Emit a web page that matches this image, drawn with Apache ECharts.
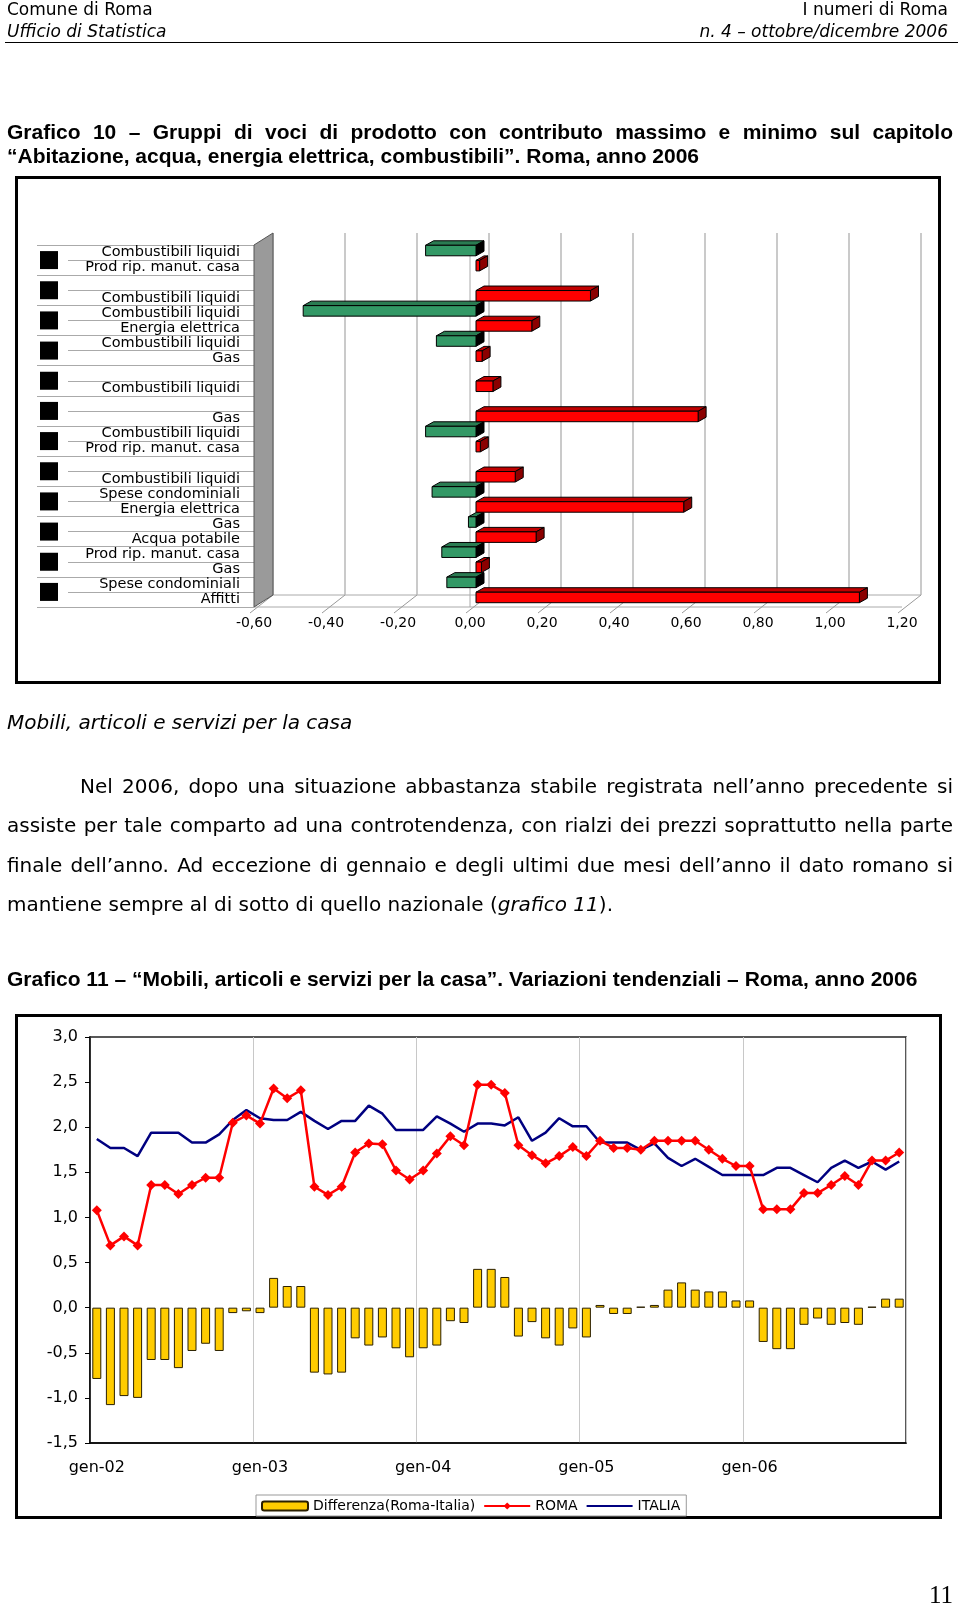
<!DOCTYPE html>
<html>
<head>
<meta charset="utf-8">
<script src="https://cdn.jsdelivr.net/npm/echarts@6.0.0/dist/echarts.min.js"></script>
<style>
  html, body { margin: 0; padding: 0; background: #fff; }
  .page { position: relative; width: 960px; height: 1607px; overflow: hidden; }
  .t { position: absolute; white-space: nowrap; color: #000; font-family: 'DejaVu Sans', sans-serif; z-index: 2; }
  .hd { font-size: 17px; line-height: 20px; }
  .r { text-align: right; }
  .bold { font-family: 'Liberation Sans', Arial, sans-serif; font-weight: bold; font-size: 21px; }
  .just { text-align: justify; text-align-last: justify; }
  .body { font-size: 20px; line-height: 39.3px; }
  .frame { position: absolute; box-sizing: border-box; border: 3px solid #000; z-index: 0; }
  #chart { position: absolute; left: 0; top: 0; width: 960px; height: 1607px; z-index: 1; }
</style>
</head>
<body>
<div class="page">
  <div class="t hd" style="left:7px;top:-1px">Comune di Roma</div>
  <div class="t hd" style="left:7px;top:21px;font-style:italic">Ufficio di Statistica</div>
  <div class="t hd r" style="right:12px;top:-1px">I numeri di Roma</div>
  <div class="t hd r" style="right:12px;top:21px;font-style:italic">n. 4 – ottobre/dicembre 2006</div>
  <div style="position:absolute;left:5px;top:42px;width:953px;border-top:1.5px solid #000"></div>

  <div class="t bold just" style="left:7px;top:120px;width:946px;line-height:23.8px">Grafico 10 – Gruppi di voci di prodotto con contributo massimo e minimo sul capitolo</div>
  <div class="t bold" style="left:7px;top:144px;line-height:23.8px">“Abitazione, acqua, energia elettrica, combustibili”. Roma, anno 2006</div>

  <div class="frame" style="left:15px;top:176px;width:926px;height:508px"></div>

  <div class="t" style="left:7px;top:710px;font-size:20px;line-height:24px;font-style:italic">Mobili, articoli e servizi per la casa</div>

  <div class="t body just" style="left:7px;top:767px;width:873px;padding-left:73px">Nel 2006, dopo una situazione abbastanza stabile registrata nell’anno precedente si</div>
  <div class="t body just" style="left:7px;top:806px;width:946px">assiste per tale comparto ad una controtendenza, con rialzi dei prezzi soprattutto nella parte</div>
  <div class="t body just" style="left:7px;top:846px;width:946px">finale dell’anno. Ad eccezione di gennaio e degli ultimi due mesi dell’anno il dato romano si</div>
  <div class="t body" style="left:7px;top:885px">mantiene sempre al di sotto di quello nazionale (<i>grafico 11</i>).</div>

  <div class="t bold" style="left:7px;top:967px;line-height:24px">Grafico 11 – “Mobili, articoli e servizi per la casa”. Variazioni tendenziali – Roma, anno 2006</div>

  <div class="frame" style="left:15px;top:1014px;width:927px;height:505px"></div>

  <div class="t r" style="right:7px;top:1580px;font-family:'Liberation Serif',serif;font-size:25px;line-height:30px">11</div>

  <div id="chart"></div>
</div>
<script>
// ---- Grafico 10: contributo minimo (verde) e massimo (rosso) per mese
const months10 = ['gen', 'feb', 'mar', 'apr', 'mag', 'giu', 'lug', 'ago', 'set', 'ott', 'nov', 'dic'];
const minLabels = ['Combustibili liquidi', '', 'Combustibili liquidi', 'Combustibili liquidi', '', '',
  'Combustibili liquidi', '', 'Spese condominiali', 'Gas', 'Prod rip. manut. casa', 'Spese condominiali'];
const minValues = [-0.14, null, -0.48, -0.11, null, null, -0.14, null, -0.122, -0.021, -0.095, -0.081];
const maxLabels = ['Prod rip. manut. casa', 'Combustibili liquidi', 'Energia elettrica', 'Gas', 'Combustibili liquidi', 'Gas',
  'Prod rip. manut. casa', 'Combustibili liquidi', 'Energia elettrica', 'Acqua potabile', 'Gas', 'Affitti'];
const maxValues = [0.01, 0.318, 0.155, 0.017, 0.047, 0.617, 0.012, 0.109, 0.577, 0.167, 0.015, 1.065];
const xTicks10 = [-0.6, -0.4, -0.2, 0, 0.2, 0.4, 0.6, 0.8, 1.0, 1.2];

// ---- Grafico 11: variazioni tendenziali
const monthNames = ['gen', 'feb', 'mar', 'apr', 'mag', 'giu', 'lug', 'ago', 'set', 'ott', 'nov', 'dic'];
const years = ['02', '03', '04', '05', '06'];
const roma = [1.08, 0.69, 0.79, 0.69, 1.36, 1.36, 1.26, 1.36, 1.44, 1.44, 2.05, 2.13,
  2.04, 2.43, 2.32, 2.41, 1.34, 1.25, 1.34, 1.72, 1.82, 1.81, 1.52, 1.42,
  1.52, 1.71, 1.90, 1.80, 2.47, 2.47, 2.38, 1.80, 1.69, 1.60, 1.68, 1.78,
  1.68, 1.85, 1.77, 1.77, 1.75, 1.85, 1.85, 1.85, 1.85, 1.75, 1.65, 1.57,
  1.57, 1.09, 1.09, 1.09, 1.27, 1.27, 1.36, 1.46, 1.36, 1.63, 1.63, 1.72];
const italia = [1.87, 1.77, 1.77, 1.68, 1.94, 1.94, 1.94, 1.83, 1.83, 1.92, 2.08, 2.19,
  2.10, 2.08, 2.08, 2.17, 2.07, 1.98, 2.07, 2.07, 2.24, 2.15, 1.97, 1.97,
  1.97, 2.12, 2.04, 1.95, 2.04, 2.04, 2.02, 2.11, 1.85, 1.94, 2.10, 2.01,
  2.01, 1.83, 1.83, 1.83, 1.75, 1.82, 1.66, 1.57, 1.65, 1.56, 1.47, 1.47,
  1.47, 1.47, 1.55, 1.55, 1.47, 1.39, 1.55, 1.63, 1.55, 1.62, 1.53, 1.62];
const diff = [-0.79, -1.08, -0.98, -1.00, -0.58, -0.58, -0.67, -0.48, -0.40, -0.48, -0.06, -0.04,
  -0.06, 0.33, 0.24, 0.24, -0.72, -0.74, -0.72, -0.34, -0.42, -0.33, -0.45, -0.55,
  -0.45, -0.42, -0.15, -0.17, 0.43, 0.43, 0.34, -0.32, -0.16, -0.34, -0.42, -0.23,
  -0.33, 0.03, -0.07, -0.07, 0.01, 0.03, 0.20, 0.28, 0.20, 0.18, 0.18, 0.08,
  0.08, -0.38, -0.46, -0.46, -0.19, -0.12, -0.19, -0.17, -0.19, 0.01, 0.10, 0.10];

const rowLabels = months10.flatMap((m, k) => [minLabels[k], maxLabels[k]]);
const categories11 = years.flatMap(y => monthNames.map(m => m + '-' + y));

const FONT = 'DejaVu Sans';
const comma = (v, d) => v.toFixed(d).replace('.', ',');

// 3D bar: front face, top face, end face
function bar3d(colors) {
  return function (params, api) {
    const v = api.value(0), row = api.value(1);
    const a = api.coord([0, row]), b = api.coord([v, row]);
    const h = 10.5, dx = 8, dy = -4.5, sx = 6, sy = -2;
    const x0 = Math.min(a[0], b[0]) + sx, x1 = Math.max(a[0], b[0]) + sx;
    const y0 = a[1] + sy - h / 2, y1 = y0 + h;
    const st = fill => ({ fill: fill, stroke: '#000', lineWidth: 1 });
    return {
      type: 'group', children: [
        { type: 'polygon', shape: { points: [[x0, y0], [x0 + dx, y0 + dy], [x1 + dx, y0 + dy], [x1, y0]] }, style: st(colors.top) },
        { type: 'polygon', shape: { points: [[x1, y0], [x1 + dx, y0 + dy], [x1 + dx, y1 + dy], [x1, y1]] }, style: st(colors.side) },
        { type: 'rect', shape: { x: x0, y: y0, width: x1 - x0, height: h }, style: st(colors.front) }
      ]
    };
  };
}

// wall, floor and back gridlines of the 3D box
function frame3d(params, api) {
  const cs = params.coordSys;
  const bottom = cs.y + cs.height;
  const x = api.coord([api.value(0), 0])[0];
  const dx = 19, dy = -12;
  const line = (x1, y1, x2, y2, c, w) => ({ type: 'line', shape: { x1, y1, x2, y2 }, style: { stroke: c, lineWidth: w } });
  const children = [
    line(x + dx, cs.y + dy, x + dx, bottom + dy, '#b8b8b8', 1.5),
    line(x - 4, bottom + 6, x + dx, bottom + dy, '#999', 1)
  ];
  if (params.dataIndex === 0) {
    children.push(line(cs.x, bottom, cs.x + cs.width, bottom, '#aaa', 1));
    children.push(line(cs.x + dx, bottom + dy, cs.x + cs.width + dx, bottom + dy, '#aaa', 1));
    children.push({
      type: 'polygon',
      shape: { points: [[cs.x, cs.y], [cs.x + dx, cs.y + dy], [cs.x + dx, bottom + dy], [cs.x, bottom]] },
      style: { fill: '#9a9a9a', stroke: '#555', lineWidth: 1 }
    });
  }
  if (api.value(0) === 0) children.push(line(x, cs.y, x, bottom, '#aaa', 1));
  return { type: 'group', children };
}

const chart = echarts.init(document.getElementById('chart'));
chart.setOption({
  animation: false,
  textStyle: { fontFamily: FONT },
  grid: [
    { left: 254, right: 58, top: 245, bottom: 1000, containLabel: false, outerBoundsMode: 'none' },
    { left: 90, right: 54, top: 1037, bottom: 164, show: true, borderColor: '#222', borderWidth: 1.5,
      containLabel: false, outerBoundsMode: 'none' }
  ],
  xAxis: [
    {
      type: 'value', gridIndex: 0, min: -0.6, max: 1.2, interval: 0.2,
      axisLine: { show: false, onZero: false }, axisTick: { show: false }, splitLine: { show: false },
      axisLabel: { color: '#000', fontSize: 14, margin: 9, formatter: v => comma(v, 2) }
    },
    {
      type: 'category', gridIndex: 1, data: categories11,
      axisLine: { onZero: false, lineStyle: { color: '#000', width: 1.5 } },
      axisTick: { show: false },
      axisLabel: { color: '#000', fontSize: 16, margin: 17, interval: 11 },
      splitLine: { show: true, interval: 11, lineStyle: { color: '#c8c8c8', width: 1 } }
    }
  ],
  yAxis: [
    {
      type: 'category', gridIndex: 0, position: 'left', inverse: true, data: rowLabels,
      axisLine: { show: false, onZero: false }, splitLine: { show: false },
      axisTick: { show: true, length: 186, lineStyle: { color: '#aaa' } },
      axisLabel: { color: '#000', fontSize: 14.5, margin: 14, interval: 0 }
    },
    {
      type: 'category', gridIndex: 0, position: 'left', offset: 0, inverse: true, data: months10,
      axisLine: { show: false, onZero: false }, splitLine: { show: false },
      axisTick: { show: true, length: 217, lineStyle: { color: '#aaa' } },
      axisLabel: {
        margin: 196, interval: 0, formatter: () => '{box| }',
        rich: { box: { width: 18, height: 18, backgroundColor: '#000' } }
      }
    },
    {
      type: 'value', gridIndex: 1, min: -1.5, max: 3, interval: 0.5,
      axisLine: { show: true, onZero: false, lineStyle: { color: '#000', width: 1.5 } },
      axisTick: { show: true, length: 5, lineStyle: { color: '#000' } },
      splitLine: { show: false },
      axisLabel: { color: '#000', fontSize: 16, margin: 12, formatter: v => comma(v, 1) }
    }
  ],
  legend: {
    left: 256, top: 1495, padding: [4, 6, 3, 5], itemGap: 8, itemWidth: 46, itemHeight: 9,
    borderColor: '#999', borderWidth: 1, backgroundColor: '#fff',
    textStyle: { fontFamily: FONT, fontSize: 14, color: '#000' },
    data: ['Differenza(Roma-Italia)', 'ROMA', { name: 'ITALIA', itemStyle: { opacity: 0 } }]
  },
  series: [
    {
      name: 'frame', type: 'custom', xAxisIndex: 0, yAxisIndex: 0, z: 1, silent: true,
      renderItem: frame3d, data: xTicks10.map(v => [v, 0])
    },
    {
      name: 'minimo', type: 'custom', xAxisIndex: 0, yAxisIndex: 0, z: 3,
      renderItem: bar3d({ front: '#339966', top: '#2a7c52', side: '#000' }),
      data: minValues.map((v, k) => v == null ? null : [v, 2 * k]).filter(d => d)
    },
    {
      name: 'massimo', type: 'custom', xAxisIndex: 0, yAxisIndex: 0, z: 3,
      renderItem: bar3d({ front: '#ff0000', top: '#c00000', side: '#8b0000' }),
      data: maxValues.map((v, k) => [v, 2 * k + 1])
    },
    {
      name: 'Differenza(Roma-Italia)', type: 'bar', xAxisIndex: 1, yAxisIndex: 2, barWidth: 9,
      data: diff, itemStyle: { color: '#ffcc00', borderColor: '#2b2000', borderWidth: 1 }
    },
    {
      name: 'ITALIA', type: 'line', xAxisIndex: 1, yAxisIndex: 2, data: italia, symbol: 'none',
      lineStyle: { color: '#000080', width: 2.5 }, itemStyle: { color: '#000080' }
    },
    {
      name: 'ROMA', type: 'line', xAxisIndex: 1, yAxisIndex: 2, data: roma,
      symbol: 'diamond', symbolSize: 10, showAllSymbol: true,
      lineStyle: { color: '#ff0000', width: 2.5 }, itemStyle: { color: '#ff0000' }
    }
  ]
});
</script>
</body>
</html>
